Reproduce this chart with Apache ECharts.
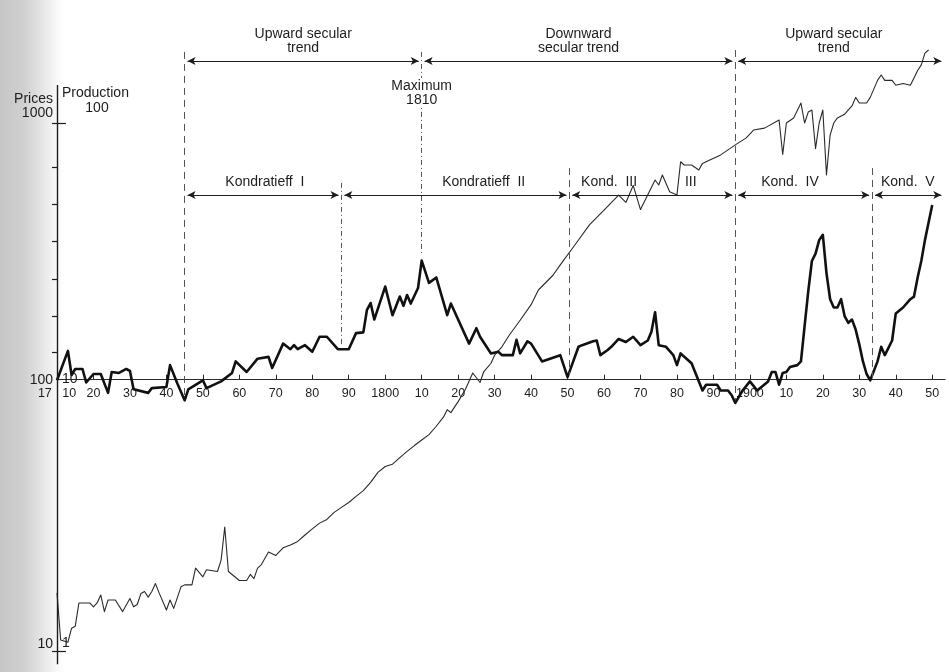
<!DOCTYPE html>
<html>
<head>
<meta charset="utf-8">
<script src="https://cdn.jsdelivr.net/npm/echarts@6/dist/echarts.min.js"></script>
<style>
  html, body { margin: 0; padding: 0; background: #fff; }
  #chart { width: 949px; height: 672px; }
</style>
</head>
<body>
<div id="chart"></div>
<script>
// Wholesale price index (thick line, left scale) and industrial production index
// (thin line, inner scale), log scale, 1710-1950.
const priceYears = [1710,1713,1714,1715,1717,1718,1720,1722,1724,1725,1727,1729,1730,1731,1735,1736,1740,1741,1743,1745,1746,1750,1751,1755,1758,1759,1762,1765,1768,1769,1772,1774,1775,1776,1778,1780,1782,1784,1787,1790,1792,1794,1795,1796,1797,1800,1802,1804,1805,1806,1807,1809,1810,1812,1814,1817,1818,1823,1825,1826,1829,1831,1832,1835,1836,1837,1839,1840,1843,1848,1850,1853,1854,1857,1858,1859,1861,1862,1864,1866,1868,1870,1872,1873,1874,1875,1877,1879,1880,1881,1884,1887,1888,1891,1892,1894,1895,1896,1898,1900,1902,1905,1906,1907,1908,1909,1910,1911,1913,1914,1915,1916,1917,1918,1919,1920,1921,1922,1923,1924,1925,1926,1927,1928,1929,1930,1931,1932,1933,1935,1936,1937,1939,1940,1942,1944,1945,1946,1947,1948,1949,1950];
const prices = [106,137,111,117,117,104,112,112,95,114,113,117,115,98,95,99,100,121,103,89,98,106,99,105,113,125,114,128,130,118,146,139,144,139,144,136,155,155,139,139,160,161,196,208,180,240,187,220,203,223,207,237,301,248,260,187,207,146,167,155,134,136,132,132,151,134,149,146,125,132,109,142,144,149,150,132,138,142,152,148,155,144,150,162,192,144,142,132,121,134,123,97,102,102,97,97,93,87,97,105,97,105,114,114,102,113,114,119,121,125,170,230,300,320,360,377,270,215,200,200,215,185,175,180,165,145,125,112,106,125,142,132,150,190,200,215,220,260,300,360,420,489];

const productionYears = [1710,1711,1713,1714,1715,1716,1719,1720,1721,1722,1723,1724,1726,1728,1730,1731,1732,1733,1734,1735,1736,1737,1738,1740,1741,1742,1744,1745,1747,1748,1750,1751,1754,1755,1756,1757,1760,1762,1763,1764,1765,1766,1768,1770,1772,1774,1776,1778,1780,1782,1784,1786,1788,1790,1792,1794,1796,1798,1800,1802,1804,1806,1808,1810,1812,1814,1816,1817,1818,1820,1822,1824,1826,1827,1829,1830,1832,1834,1837,1840,1842,1846,1848,1852,1856,1860,1864,1866,1868,1870,1874,1875,1876,1878,1880,1881,1882,1884,1886,1887,1889,1892,1896,1899,1901,1904,1908,1909,1910,1912,1914,1915,1916,1917,1918,1919,1920,1921,1922,1923,1924,1926,1927,1928,1929,1930,1932,1933,1935,1936,1937,1939,1940,1942,1944,1945,1946,1947,1948,1949];
const production = [1.66,1.10,1.08,1.22,1.24,1.52,1.52,1.47,1.52,1.63,1.41,1.56,1.56,1.41,1.58,1.47,1.50,1.65,1.68,1.60,1.68,1.80,1.66,1.43,1.56,1.45,1.75,1.78,1.78,2.06,1.91,2.03,2.00,2.21,2.95,2.00,1.85,1.85,1.95,1.88,2.06,2.12,2.37,2.30,2.46,2.52,2.60,2.75,2.90,3.05,3.15,3.35,3.50,3.65,3.85,4.05,4.35,4.75,5.00,5.10,5.40,5.70,6.00,6.30,6.60,7.10,7.70,8.20,8.00,8.80,9.80,11.3,10.4,11.4,12.3,13.2,14.2,15.7,17.9,20.5,23.3,26.5,29.0,34.5,41.1,46.8,53.3,50.0,58.0,47.0,60.8,58.2,63.5,54.9,53.4,71.3,69.3,69.3,66.4,70.3,72.4,75.7,82.6,87.8,94.0,95.6,102.6,76.0,100,104.5,119,100,110,112,80,100,112,63.5,90,100,104.5,108,112,116,125,119,119,125,145,152,145,145,139,141,139,148,158,166,184,189];

// Scale marks
const priceTicks = [10, 135, 186, 256, 357, 494, 681, 1000];
const priceLabels = [10, 100, 1000];
const productionTicks = [1, 100];
const productionLabels = [1, 10, 100];

// Turning points and the long waves between them
const turningPoints = [1745, 1788, 1810, 1850.5, 1896, 1933.5];
const secularTrends = [
  { text: 'Upward secular\ntrend', from: 1745, to: 1810 },
  { text: 'Downward\nsecular trend', from: 1810, to: 1896 },
  { text: 'Upward secular\ntrend', from: 1896, to: 1953.3 }
];
const kondratieffWaves = [
  { text: 'Kondratieff  I', from: 1745, to: 1788 },
  { text: 'Kondratieff  II', from: 1788, to: 1850.5 },
  { text: 'Kond.  III', from: 1850.5, to: 1896 },
  { text: 'Kond.  IV', from: 1896, to: 1933.5 },
  { text: 'Kond.  V', from: 1933.5, to: 1953.3 }
];

const FONT = '"Liberation Sans", Arial, Helvetica, sans-serif';
const INK = '#1d1d1d';

// Axis extents: one decade spans ~264 px and the price level 100 sits on the time axis
const PRICE_MIN = 8.85, PRICE_MAX = 2250;

// Levels (in price units) where the annotation rows sit
const SECULAR_LEVEL = 1718, SECULAR_TEXT = 2045;
const KOND_LEVEL = 533, KOND_TEXT = 598;

// vertical extent of each dashed turning-point line [top, bottom]
const dashExtent = [[1858, 90.8], [593, 144], [1858, 316], [675, 111], [1890, 89], [675, 108]];
const dashPattern = [[7, 5], [5, 3, 1, 3], [5, 3, 1, 3], [7, 5], [7, 5], [7, 5]];

const markLines = [];
turningPoints.forEach((yr, i) => {
  markLines.push([
    { coord: [yr, dashExtent[i][0]], lineStyle: { type: dashPattern[i], color: '#555', width: 1 } },
    { coord: [yr, dashExtent[i][1]] }
  ]);
});
function arrowPair(from, to, level) {
  return [
    { coord: [from, level], symbol: 'arrow', symbolSize: [6, 8], lineStyle: { type: 'solid', color: INK, width: 1 } },
    { coord: [to, level], symbol: 'arrow', symbolSize: [6, 8] }
  ];
}
secularTrends.forEach(s => markLines.push(arrowPair(s.from + 0.8, s.to - 0.8, SECULAR_LEVEL)));
kondratieffWaves.forEach(k => markLines.push(arrowPair(k.from + 0.8, k.to - 0.8, KOND_LEVEL)));
// vertical scale line
markLines.push([
  { coord: [1710, 8.9], lineStyle: { type: 'solid', color: INK, width: 1.4 } },
  { coord: [1710, 1393] }
]);

const textLabel = (coord, text, extra) => ({
  coord: coord,
  value: text,
  label: Object.assign({
    show: true, position: 'inside', formatter: text, color: INK,
    fontFamily: FONT, fontSize: 14, lineHeight: 14
  }, extra || {})
});

const markPoints = [];
secularTrends.forEach(s => {
  markPoints.push(textLabel([(s.from + Math.min(s.to, 1950)) / 2, SECULAR_TEXT], s.text));
});
const kondCenters = [1767, 1827, 1861.4, 1911, 1943.3];
kondratieffWaves.forEach((k, i) => markPoints.push(textLabel([kondCenters[i], KOND_TEXT], k.text)));
markPoints.push(textLabel([1883.8, KOND_TEXT], 'III'));
markPoints.push(textLabel([1810, 1300], 'Maximum\n1810', { backgroundColor: '#fff', padding: [1, 2] }));

const chart = echarts.init(document.getElementById('chart'), null, { renderer: 'canvas' });

const option = {
  animation: false,
  backgroundColor: {
    type: 'linear', x: 0, y: 0, x2: 1, y2: 0,
    colorStops: [
      { offset: 0, color: '#c6c6c6' },
      { offset: 0.025, color: '#d0d0d0' },
      { offset: 0.045, color: '#e6e6e6' },
      { offset: 0.06, color: '#f9f9f9' },
      { offset: 0.068, color: '#ffffff' },
      { offset: 1, color: '#ffffff' }
    ]
  },
  textStyle: { fontFamily: FONT },
  grid: { left: 57, right: 4, top: 30, bottom: 7, containLabel: false },
  xAxis: {
    type: 'value', min: 1710, max: 1953.5, interval: 10,
    position: 'bottom', offset: 0,
    axisLine: { lineStyle: { color: '#2a2a2a', width: 1.2 } },
    axisTick: { inside: true, length: 5, lineStyle: { color: '#2a2a2a' } },
    axisLabel: {
      color: INK, fontFamily: FONT, fontSize: 12.5, margin: 7,
      formatter: v => v === 1710 ? '17   10' : (v % 100 === 0 ? String(v) : String(v % 100))
    },
    splitLine: { show: false }
  },
  yAxis: [
    {
      type: 'log', logBase: 10, min: PRICE_MIN, max: PRICE_MAX, position: 'left',
      axisLine: { show: false },
      axisTick: { show: true, customValues: priceTicks, length: 5, lineStyle: { color: INK, width: 1.2 } },
      axisLabel: {
        customValues: priceLabels, color: INK, fontFamily: FONT, fontSize: 14, margin: 4,
        verticalAlign: 'bottom', lineHeight: 14,
        formatter: v => v >= 999 ? 'Prices\n1000\n{s| }' : String(Math.round(v)),
        rich: { s: { fontSize: 3, lineHeight: 3 } }
      },
      splitLine: { show: false }
    },
    {
      type: 'log', logBase: 10, min: PRICE_MIN / 10, max: PRICE_MAX / 10, position: 'left',
      axisLine: { show: false },
      axisTick: { show: true, inside: true, customValues: productionTicks, length: 9, lineStyle: { color: INK, width: 1.2 } },
      axisLabel: {
        inside: true, customValues: productionLabels, color: INK, fontFamily: FONT, fontSize: 14, margin: 5,
        verticalAlign: 'bottom', lineHeight: 15,
        formatter: v => v >= 99 ? 'Production\n      100\n{s| }' : String(Math.round(v)),
        rich: { s: { fontSize: 7, lineHeight: 7 } }
      },
      splitLine: { show: false }
    }
  ],
  series: [
    {
      name: 'Prices', type: 'line', yAxisIndex: 0,
      data: priceYears.map((y, i) => [y, prices[i]]),
      symbol: 'none', silent: true, z: 4,
      lineStyle: { color: '#111', width: 2.6, join: 'round' },
      markLine: {
        silent: true, symbol: ['none', 'none'], label: { show: false },
        animation: false, emphasis: { disabled: true },
        data: markLines
      },
      markPoint: {
        silent: true, symbol: 'rect', symbolSize: 1,
        itemStyle: { color: 'rgba(0,0,0,0)' },
        animation: false,
        data: markPoints
      }
    },
    {
      name: 'Production', type: 'line', yAxisIndex: 1,
      data: productionYears.map((y, i) => [y, production[i]]),
      symbol: 'none', silent: true, z: 3,
      lineStyle: { color: '#2a2a2a', width: 1.1, join: 'round' }
    }
  ]
};

chart.setOption(option);

// put the time axis on the price level 100
const y100 = chart.convertToPixel({ yAxisIndex: 0 }, 100);
const gridBottom = chart.getHeight() - option.grid.bottom;
chart.setOption({ xAxis: { offset: y100 - gridBottom } });
</script>
</body>
</html>
